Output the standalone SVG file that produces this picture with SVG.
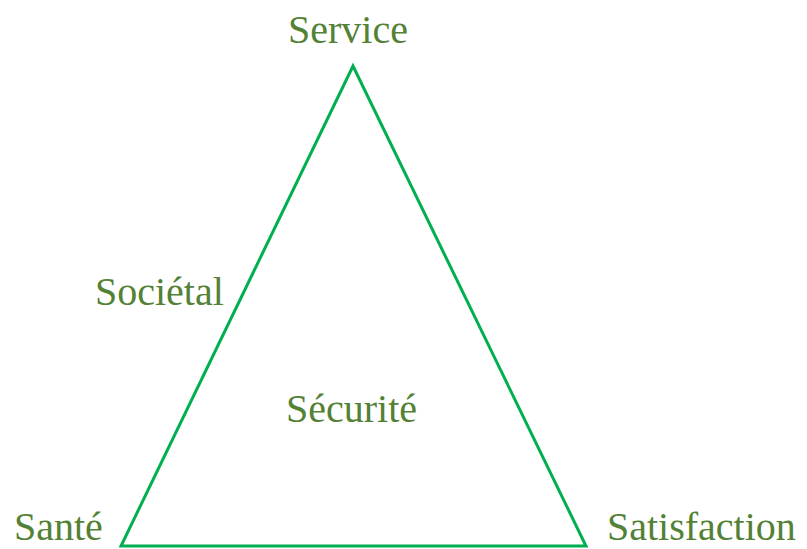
<svg xmlns="http://www.w3.org/2000/svg" width="807" height="549" viewBox="0 0 807 549">
  <style>
    .lbl { font-family: "Liberation Serif", "Times New Roman", serif; font-size: 40px; fill: #538135; }
    .edge { fill: none; stroke: #00B050; stroke-width: 3; stroke-linejoin: miter; }
  </style>
  <rect width="807" height="549" fill="#ffffff"/>
  <g id="connectors">
    <polygon class="edge" points="353,66 121,546 586,546"/>
  </g>
  <g id="service"><text class="lbl" x="288" y="43">Service</text></g>
  <g id="societal"><text class="lbl" x="95" y="305">Sociétal</text></g>
  <g id="securite"><text class="lbl" x="286" y="422">Sécurité</text></g>
  <g id="sante"><text class="lbl" x="14" y="540">Santé</text></g>
  <g id="satisfaction"><text class="lbl" x="607" y="540">Satisfaction</text></g>
</svg>
